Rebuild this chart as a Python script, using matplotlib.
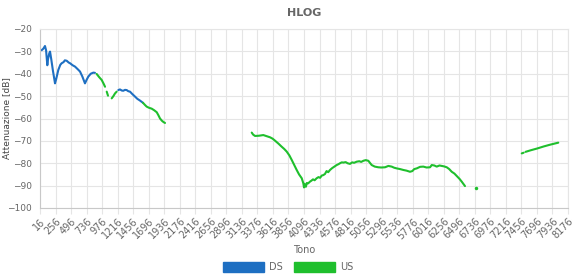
import numpy as np
import matplotlib
matplotlib.use("Agg")
import matplotlib.pyplot as plt
from matplotlib.patches import Patch

nan = np.nan

ds_tones = [40, 67, 93, 110, 129, 140, 160, 171, 190, 215, 248, 265, 299, 330, 351, 380, 400,
            429, 460, 480, 520, 557, 600, 634, 670, 711, 735, 762, 800, 840, 866, 1000,
            1226, 1252, 1280, 1303, 1330, 1356, 1380, 1407, 1440, 1484, 1520, 1562, 1608]
ds_db = [-29.5, -28.8, -27.6, -29.5, -36.2, -33.5, -30.8, -30.1, -33.5, -38.5, -44.3, -42.5,
         -38.3, -36.0, -35.3, -34.8, -34.0, -34.2, -35.0, -35.3, -36.2, -36.8, -38.0, -39.0,
         -41.2, -44.3, -42.8, -41.3, -40.0, -39.5, -39.6, nan,
         -47.3, -47.0, -47.5, -47.6, -47.2, -47.3, -47.8, -48.0, -49.0, -50.2, -51.2, -52.0, -53.0]

us_tones = [892, 930, 970, 1000, 1021, 1034, 1047, 1067, 1095, 1124, 1150, 1175, 1201, 1400,
            1608, 1640, 1665, 1700, 1742, 1780, 1820, 1845, 1871, 1900, 1925, 1948, 2500,
            3288, 3310, 3339, 3400, 3467, 3520, 3571, 3610, 3648, 3700, 3751, 3790, 3829, 3870,
            3906, 3945, 3983, 4020, 4061, 4075, 4086, 4096, 4105, 4112, 4125, 4140, 4160, 4189,
            4210, 4235, 4260, 4292, 4320, 4345, 4370, 4394, 4420, 4445, 4470, 4498, 4530, 4560,
            4601, 4630, 4652, 4680, 4704, 4740, 4770, 4807, 4840, 4870, 4910, 4950, 4980, 5013,
            5050, 5090, 5115, 5142, 5190, 5244, 5290, 5348, 5400, 5451, 5490, 5529, 5580, 5631,
            5680, 5734, 5770, 5800, 5838, 5890, 5940, 5990, 6044, 6070, 6110, 6147, 6190, 6224,
            6260, 6302, 6340, 6379, 6420, 6456, 6500, 6533, 6560, 6584, 6680, 6760, 7000,
            7461, 7490, 7505, 7520, 7600, 7700, 7800, 7900, 8026]
us_db = [-40.1, -41.5, -42.8, -44.5, -45.8, nan, -48.0, -49.8, nan, -51.0, -50.0, -48.8, -48.0, nan,
         -53.0, -54.0, -54.7, -55.2, -55.6, -56.3, -57.2, -58.5, -60.0, -61.0, -61.6, -62.0, nan,
         -66.3, -67.2, -67.8, -67.7, -67.4, -67.9, -68.4, -69.0, -69.9, -71.2, -72.6, -73.6, -74.8,
         -76.5, -78.5, -80.8, -83.0, -85.0, -86.7, -88.0, -89.0, -90.8, -89.2, -89.7, -90.5, -88.8,
         -89.0, -88.2, -87.8, -87.2, -87.6, -86.7, -86.2, -86.5, -85.5, -85.3, -84.8, -83.5, -84.0,
         -83.0, -82.2, -81.6, -80.8, -80.4, -80.0, -79.6, -79.7, -79.5, -80.0, -80.3, -79.6, -79.8,
         -79.3, -79.1, -79.4, -78.9, -78.6, -78.9, -79.8, -80.8, -81.5, -81.8, -81.9, -81.8, -81.2,
         -81.5, -82.0, -82.3, -82.6, -83.0, -83.3, -83.8, -83.5, -82.6, -82.3, -81.6, -81.5, -81.9,
         -81.8, -80.8, -81.0, -81.5, -81.0, -81.2, -81.4, -81.8, -82.6, -83.8, -84.6, -85.7, -87.0,
         -88.2, -89.3, -90.2, nan, -91.2, nan,
         -75.6, -75.3, nan, -74.9, -74.2, -73.4, -72.5, -71.7, -70.8]

x_ticks = list(range(16, 8177, 240))
y_ticks = list(range(-100, -19, 10))

ds_color = "#1e6fc2"
us_color = "#1fbf2d"
grid_c = "#e5e5e5"
text_c = "#666666"

fig = plt.figure(figsize=(5.76, 2.80), dpi=100)
ax = fig.add_axes([40 / 576, 72 / 280, 528 / 576, 179 / 280])

ax.plot(ds_tones, ds_db, color=ds_color, lw=1.5, solid_capstyle="round")
ax.plot(us_tones, us_db, color=us_color, lw=1.5, solid_capstyle="round")

# isolated points (NaN on both sides) drawn as dots
ut = np.array(us_tones, float)
ud = np.array(us_db, float)
iso = [i for i in range(1, len(ud) - 1) if not np.isnan(ud[i]) and np.isnan(ud[i - 1]) and np.isnan(ud[i + 1])]
ax.plot(ut[iso], ud[iso], 'o', color=us_color, ms=2.5, mew=0)

ax.set_xlim(16, 8176)
ax.set_ylim(-100, -20)
ax.set_xticks(x_ticks)
ax.set_xticklabels([str(t) for t in x_ticks], rotation=45, ha="right", rotation_mode="anchor")
ax.set_yticks(y_ticks)
ax.tick_params(axis="both", colors=text_c, width=0.8)
ax.tick_params(axis="x", labelsize=7, length=4, pad=2, color=grid_c)
ax.tick_params(axis="y", labelsize=6.5, length=0, pad=6)
ax.grid(True, color=grid_c, lw=0.8)
ax.set_axisbelow(True)
for s in ["top", "right"]:
    ax.spines[s].set_color(grid_c)
for s in ["left", "bottom"]:
    ax.spines[s].set_color("#c8c8c8")

ax.set_xlabel("Tono", fontsize=7, color=text_c)
ax.xaxis.set_label_coords(0.5, -37 / 179)
ax.set_ylabel("Attenuazione [dB]", fontsize=6.5, color="#444444")
ax.yaxis.set_label_coords(-29 / 528, 0.5)
ax.set_title("HLOG", fontsize=8, fontweight="bold", color=text_c, pad=9)

handles = [Patch(facecolor=ds_color, edgecolor=ds_color, label="DS"),
           Patch(facecolor=us_color, edgecolor=us_color, label="US")]
fig.legend(handles=handles, loc="center", bbox_to_anchor=(0.5, 1 - 267 / 280), ncol=2,
           frameon=False, fontsize=7, handlelength=4.2, handleheight=1.3, columnspacing=1.2,
           handletextpad=0.5, labelcolor=text_c)

fig.savefig("out.png", dpi=100, facecolor="white")
